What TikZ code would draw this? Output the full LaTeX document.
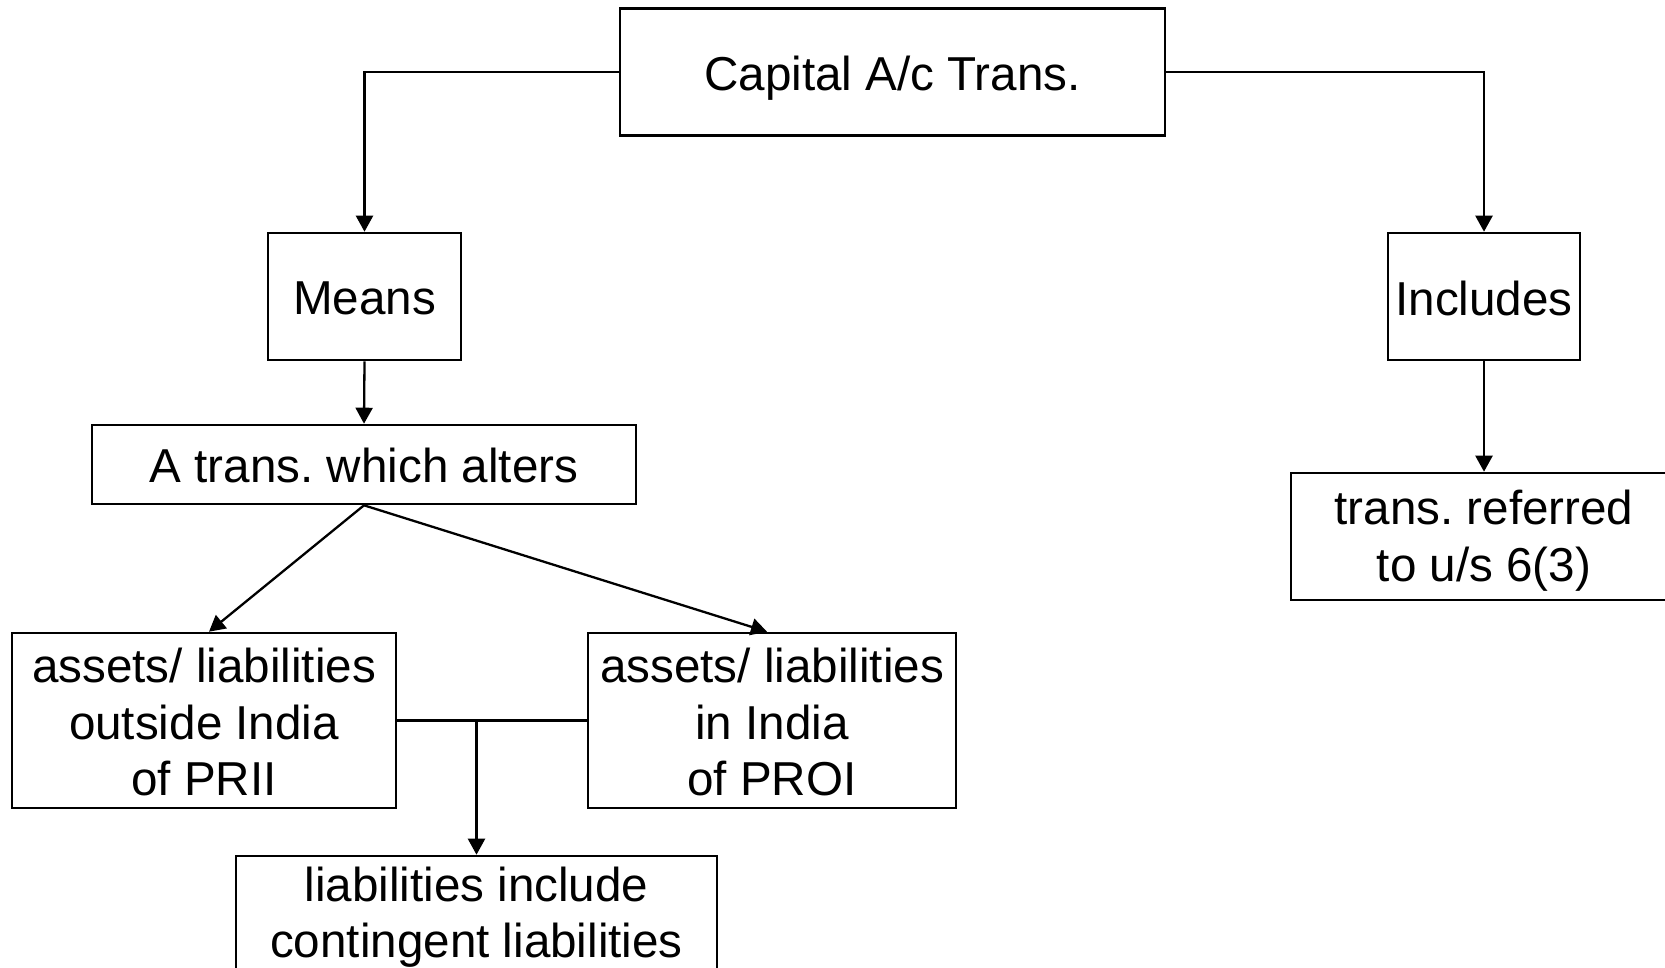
\documentclass[tikz,border=0pt]{standalone}
\usepackage{fontspec}
\setmainfont{Liberation Sans}
\usetikzlibrary{arrows.meta}
\frenchspacing
\begin{document}
\begin{tikzpicture}[x=1pt,y=-1pt,
  frame/.style={draw,line width=2.6pt,inner sep=0pt},
  txt/.style={inner sep=0pt,align=center,font=\fontsize{47.6}{56.5}\selectfont\frenchspacing},
  arr/.style={line width=2.3pt,-{Triangle[length=16pt,width=17pt]}},
  ln/.style={line width=2.3pt}]
\useasboundingbox (0,0) rectangle (1665,967);
\node[frame,minimum width=545pt,minimum height=127pt] (top) at (892.5,72) {};
\node[txt] (topt) at ([yshift=-6pt]top.center) {Capital A/c Trans.};
\node[frame,minimum width=193pt,minimum height=127pt] (means) at (364.5,296.5) {};
\node[txt] (meanst) at ([yshift=-2pt]means.center) {Means};
\node[frame,minimum width=192pt,minimum height=127pt] (incl) at (1484,296.5) {};
\node[txt] (inclt) at ([yshift=-2pt]incl.center) {Includes};
\node[frame,minimum width=544pt,minimum height=79pt] (atrans) at (364,464.5) {};
\node[txt] (atranst) at ([yshift=-1pt]atrans.center) {A trans. which alters};
\node[frame,minimum width=384pt,minimum height=175pt] (outside) at (204,720.5) {};
\node[txt] (outsidet) at ([yshift=-1.5pt]outside.center) {assets/ liabilities\\outside India\\of PRII};
\node[frame,minimum width=368pt,minimum height=175pt] (inindia) at (772,720.5) {};
\node[txt] (inindiat) at ([yshift=-1.5pt]inindia.center) {assets/ liabilities\\in India\\of PROI};
\node[frame,minimum width=386pt,minimum height=127pt] (transref) at (1484,536.5) {};
\node[txt] (transreft) at ([yshift=-4pt]transref.center) {trans. referred\\to u/s 6(3)};
\node[frame,minimum width=481pt,minimum height=114pt] (bottom) at (476.5,913) {};
\node[txt] (bottomt) at ([yshift=-4pt]bottom.center) {liabilities include\\contingent liabilities};
\draw[arr] (top.west) -| (means.north);
\draw[arr] (top.east) -| (incl.north);
\draw[arr] (means.south) -- (atrans.north);
\draw[arr] (incl.south) -- (transref.north);
\draw[arr] (atrans.south) -- ([xshift=5pt]outside.north);
\draw[arr] (atrans.south) -- ([xshift=-5pt]inindia.north);
\draw[ln] (outside.east) -- (inindia.west);
\coordinate (j) at (bottom.north |- outside.east);
\draw[arr] (j) -- (bottom.north);
\end{tikzpicture}
\end{document}
